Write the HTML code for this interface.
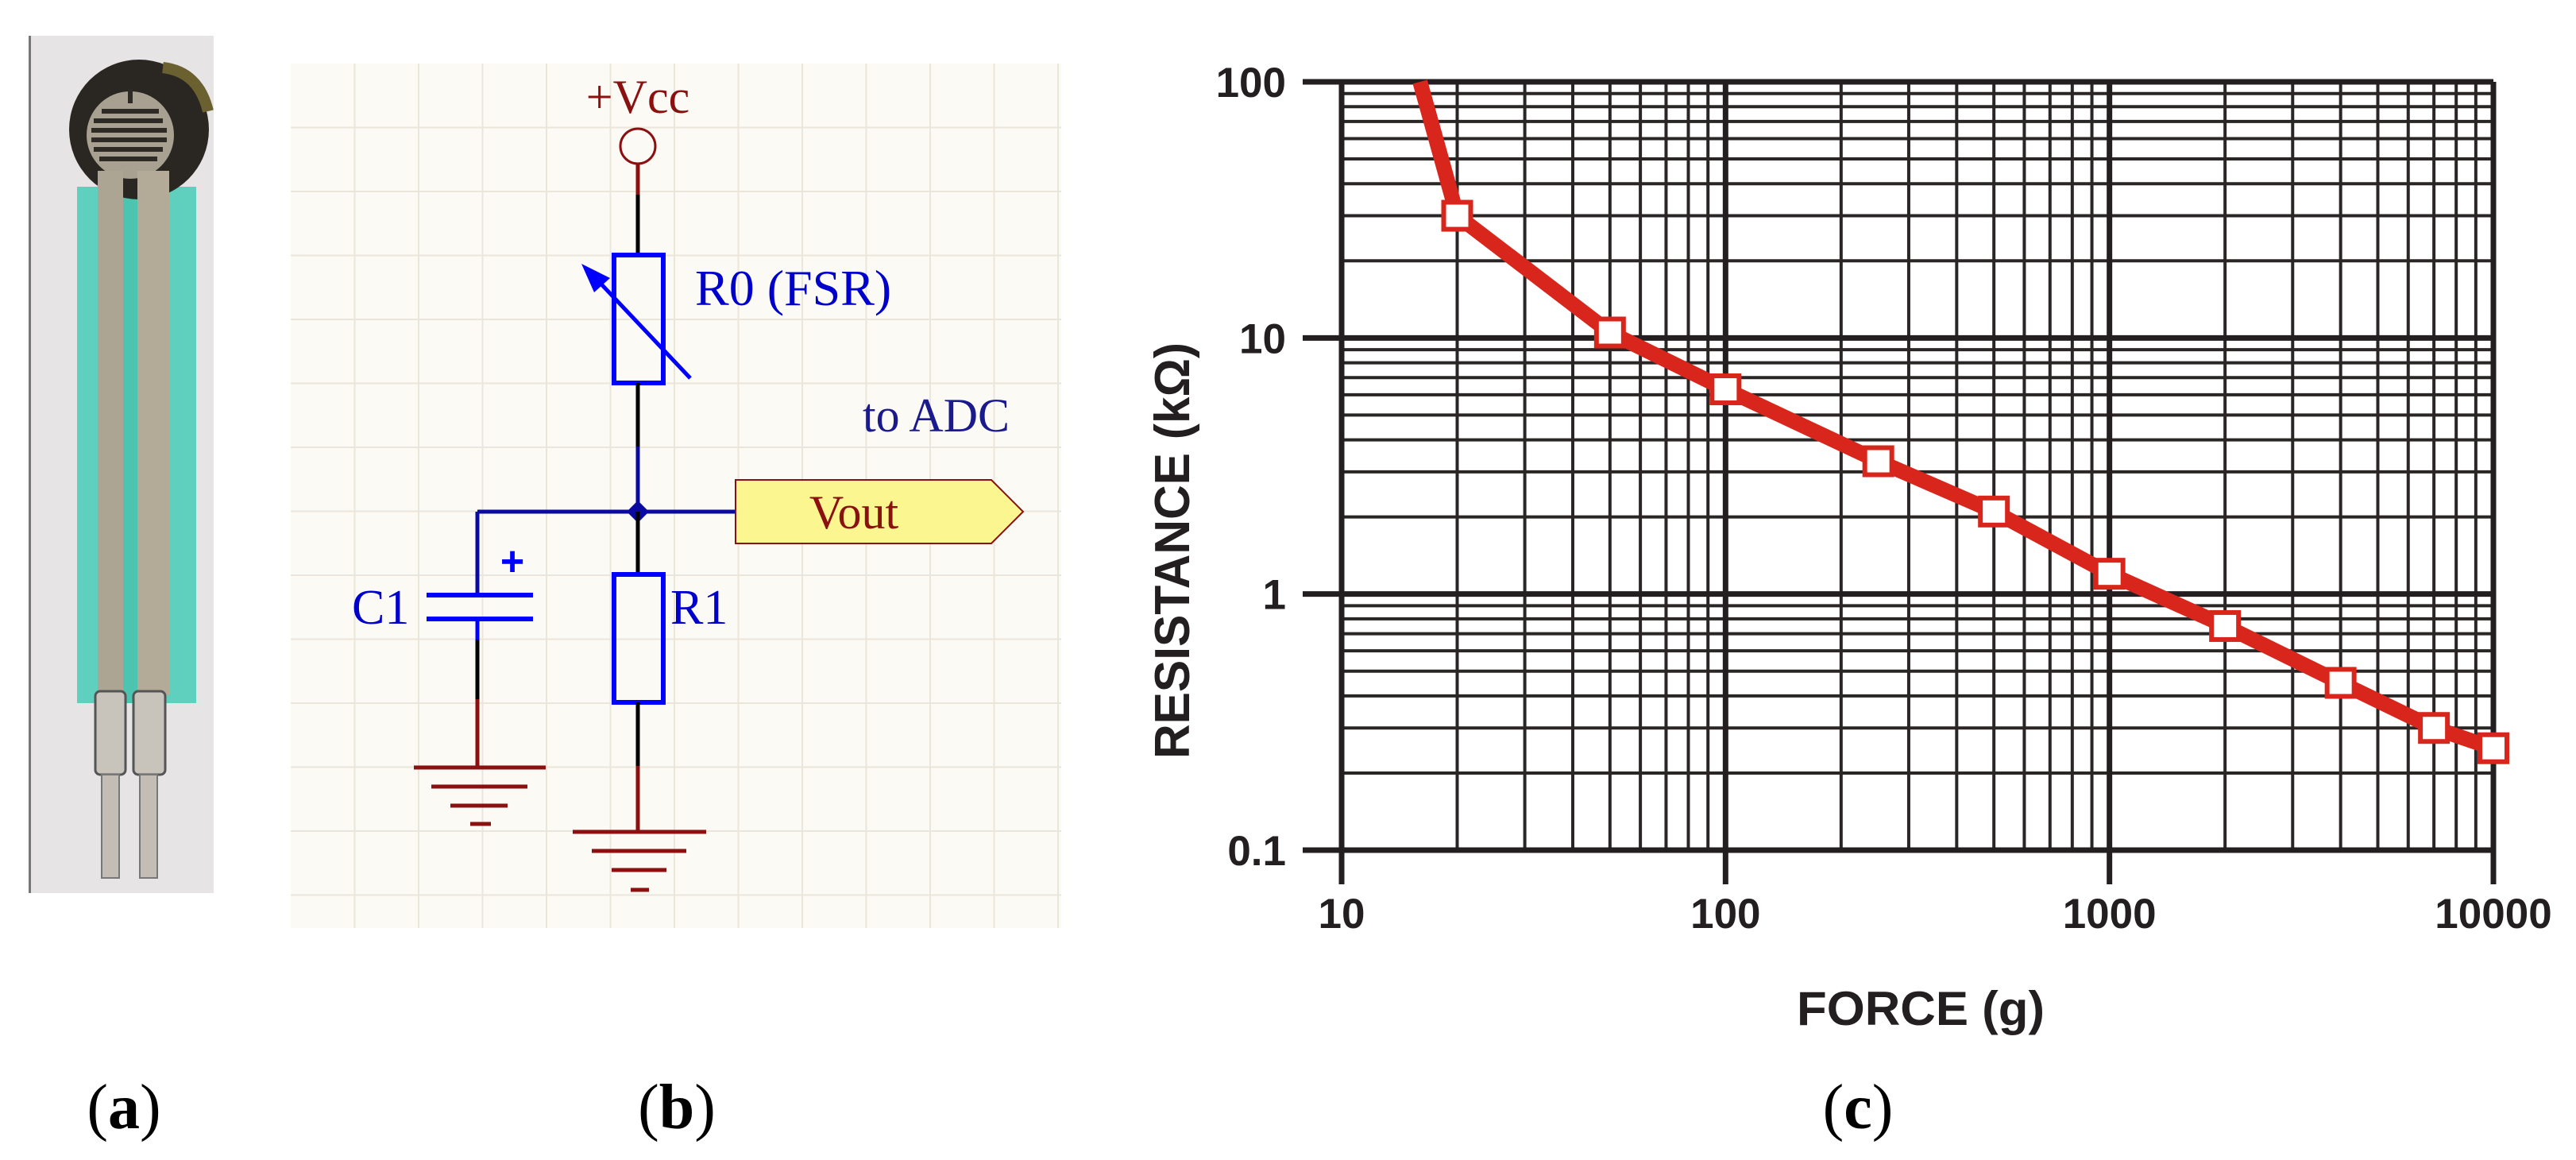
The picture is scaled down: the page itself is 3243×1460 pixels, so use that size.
<!DOCTYPE html>
<html><head><meta charset="utf-8">
<style>
html,body{margin:0;padding:0;background:#fff;}
body{width:3243px;height:1460px;overflow:hidden;position:relative;}
svg{position:absolute;left:0;top:0;}
</style></head>
<body>
<svg id="fig" width="3243" height="1460" viewBox="0 0 3243 1460" xmlns="http://www.w3.org/2000/svg">
  <!-- (a) photo of FSR -->
  <g>
    <rect x="36" y="45" width="233" height="1079" fill="#e6e4e4"/>
    <rect x="36" y="45" width="3" height="1079" fill="#777"/>
    <rect x="97" y="235" width="150" height="650" fill="#5fcfbe"/>
    <rect x="155" y="235" width="18" height="650" fill="#4cc4b0"/>
    <ellipse cx="175" cy="163" rx="88" ry="88" fill="#2a2722"/>
    <path d="M205 85 Q250 90 262 140" stroke="#6b6030" stroke-width="14" fill="none"/>
    <circle cx="164" cy="170" r="55" fill="#a8a090"/>
    <g stroke="#2e2b26" stroke-width="6">
      <line x1="128" y1="140" x2="200" y2="140"/>
      <line x1="118" y1="152" x2="205" y2="152"/>
      <line x1="115" y1="164" x2="210" y2="164"/>
      <line x1="115" y1="176" x2="210" y2="176"/>
      <line x1="118" y1="188" x2="205" y2="188"/>
      <line x1="125" y1="200" x2="198" y2="200"/>
      <line x1="164" y1="112" x2="164" y2="130"/>
    </g>
    <rect x="123" y="215" width="32" height="660" fill="#ada594"/>
    <rect x="173" y="215" width="40" height="660" fill="#b3ab98"/>
    <rect x="120" y="870" width="38" height="105" rx="6" fill="#c8c4bc" stroke="#555" stroke-width="3"/>
    <rect x="168" y="870" width="40" height="105" rx="6" fill="#c8c4bc" stroke="#555" stroke-width="3"/>
    <rect x="128" y="975" width="22" height="130" fill="#c2beb6" stroke="#777" stroke-width="2"/>
    <rect x="176" y="975" width="22" height="130" fill="#c2beb6" stroke="#777" stroke-width="2"/>
  </g>

  <!-- (b) circuit -->
  <g>
    <rect x="366" y="80" width="970" height="1088" fill="#fcfaf5"/>
    <g id="sgrid" stroke="#ebe6dc" stroke-width="2"></g>
    <text x="803" y="142" text-anchor="middle" font-family="Liberation Serif, serif" font-size="60" fill="#8b1010">+Vcc</text>
    <circle cx="803" cy="184" r="22" fill="none" stroke="#8b1010" stroke-width="3"/>
    <line x1="803" y1="206" x2="803" y2="245" stroke="#8b1010" stroke-width="5"/>
    <line x1="803" y1="245" x2="803" y2="321" stroke="#000" stroke-width="5"/>
    <rect x="773" y="321" width="62" height="161" fill="none" stroke="#0000ff" stroke-width="6"/>
    <line x1="869" y1="476" x2="745" y2="345" stroke="#0000ff" stroke-width="5"/>
    <polygon points="732,332 768,350 748,368" fill="#0000ff"/>
    <text x="875" y="384" font-family="Liberation Serif, serif" font-size="64" fill="#0000cc">R0 (FSR)</text>
    <line x1="803" y1="482" x2="803" y2="562" stroke="#000" stroke-width="5"/>
    <line x1="803" y1="562" x2="803" y2="644" stroke="#0a0aa0" stroke-width="5"/>
    <line x1="601" y1="644" x2="926" y2="644" stroke="#0a0aa0" stroke-width="5"/>
    <polygon points="803,630 817,644 803,658 789,644" fill="#0a0aa0"/>
    <text x="1086" y="543" font-family="Liberation Serif, serif" font-size="60" fill="#1a1a8c">to ADC</text>
    <polygon points="926,604 1248,604 1288,644 1248,684 926,684" fill="#fbf690" stroke="#8b1010" stroke-width="2"/>
    <text x="1075" y="665" text-anchor="middle" font-family="Liberation Serif, serif" font-size="60" fill="#8b1010">Vout</text>
    <!-- C1 -->
    <line x1="601" y1="644" x2="601" y2="749" stroke="#0a0aa0" stroke-width="5"/>
    <line x1="537" y1="749" x2="671" y2="749" stroke="#0000ff" stroke-width="6"/>
    <line x1="537" y1="779" x2="671" y2="779" stroke="#0000ff" stroke-width="6"/>
    <line x1="601" y1="779" x2="601" y2="805" stroke="#0000ff" stroke-width="5"/>
    <line x1="601" y1="805" x2="601" y2="880" stroke="#000" stroke-width="5"/>
    <line x1="601" y1="880" x2="601" y2="966" stroke="#8b1010" stroke-width="5"/>
    <text x="645" y="724" text-anchor="middle" font-family="Liberation Sans, sans-serif" font-weight="bold" font-size="52" fill="#0000ff">+</text>
    <text x="443" y="785" font-family="Liberation Serif, serif" font-size="62" fill="#0000cc">C1</text>
    <g stroke="#8b1010" stroke-width="5">
      <line x1="521" y1="966" x2="687" y2="966"/><line x1="543" y1="990" x2="664" y2="990"/>
      <line x1="567" y1="1014" x2="639" y2="1014"/><line x1="592" y1="1037" x2="618" y2="1037"/>
    </g>
    <!-- R1 -->
    <line x1="803" y1="644" x2="803" y2="723" stroke="#000" stroke-width="5"/>
    <rect x="773" y="723" width="62" height="161" fill="none" stroke="#0000ff" stroke-width="6"/>
    <text x="844" y="785" font-family="Liberation Serif, serif" font-size="62" fill="#0000cc">R1</text>
    <line x1="803" y1="884" x2="803" y2="964" stroke="#000" stroke-width="5"/>
    <line x1="803" y1="964" x2="803" y2="1047" stroke="#8b1010" stroke-width="5"/>
    <g stroke="#8b1010" stroke-width="5">
      <line x1="721" y1="1047" x2="889" y2="1047"/><line x1="745" y1="1071" x2="864" y2="1071"/>
      <line x1="770" y1="1095" x2="839" y2="1095"/><line x1="794" y1="1120" x2="817" y2="1120"/>
    </g>
  </g>

  <!-- (c) chart -->
  <g id="chart">
    <g id="grid"></g>
    <g id="ticks"></g>
    <g id="series"></g>
    <text transform="translate(1497,693) rotate(-90)" text-anchor="middle" font-family="Liberation Sans, sans-serif" font-weight="bold" font-size="62" textLength="524" lengthAdjust="spacingAndGlyphs" fill="#231f20">RESISTANCE (kΩ)</text>
    <text x="2418" y="1290" text-anchor="middle" font-family="Liberation Sans, sans-serif" font-weight="bold" font-size="60" textLength="312" lengthAdjust="spacingAndGlyphs" fill="#231f20">FORCE (g)</text>
  </g>

  <g font-family="Liberation Serif, serif" font-size="80" fill="#000" text-anchor="middle">
    <text x="156" y="1420">(<tspan font-weight="bold">a</tspan>)</text>
    <text x="852" y="1420">(<tspan font-weight="bold">b</tspan>)</text>
    <text x="2339" y="1420">(<tspan font-weight="bold">c</tspan>)</text>
  </g>
</svg>
<script>
const forceValues = [16, 20, 50, 100, 250, 500, 1000, 2000, 4000, 7000, 10000];
const resistanceValues = [100, 30, 10.5, 6.3, 3.3, 2.1, 1.2, 0.75, 0.45, 0.3, 0.25];
const markerFlags = [0, 1, 1, 1, 1, 1, 1, 1, 1, 1, 1];
const xTickLabels = ["10", "100", "1000", "10000"];
const yTickLabels = ["0.1", "1", "10", "100"];

const NS = "http://www.w3.org/2000/svg";
const X0 = 1689, X1 = 3139, Y0 = 103, Y1 = 1070;
const xMin = 10, xMax = 10000, yMin = 0.1, yMax = 100;
function xs(v){ return X0 + (X1 - X0) * (Math.log10(v) - Math.log10(xMin)) / (Math.log10(xMax) - Math.log10(xMin)); }
function ys(v){ return Y1 - (Y1 - Y0) * (Math.log10(v) - Math.log10(yMin)) / (Math.log10(yMax) - Math.log10(yMin)); }
function mk(tag, attrs, parent){ const e = document.createElementNS(NS, tag); for (const k in attrs) e.setAttribute(k, attrs[k]); parent.appendChild(e); return e; }

// schematic grid
const sg = document.getElementById('sgrid');
for (let x = 366 + 80.5; x < 1336; x += 80.5) mk('line', {x1:x, y1:80, x2:x, y2:1168}, sg);
for (let y = 80 + 80.5; y < 1168; y += 80.5) mk('line', {x1:366, y1:y, x2:1336, y2:y}, sg);

const grid = document.getElementById('grid');
const ticks = document.getElementById('ticks');
// vertical grid lines
for (let d = 10; d < xMax; d *= 10) {
  for (let m = 2; m <= 9; m++) {
    const x = xs(d * m);
    const l = mk('line', {x1:x, y1:Y0, x2:x, y2:Y1, stroke:'#2a2626', 'stroke-width':4}, grid);
    
    
  }
}
for (let d = 0.1; d < yMax * 0.99; d *= 10) {
  for (let m = 2; m <= 9; m++) {
    const y = ys(d * m);
    const l = mk('line', {x1:X0, y1:y, x2:X1, y2:y, stroke:'#2a2626', 'stroke-width':4}, grid);
    
    
  }
}
// decade lines and labels
xTickLabels.forEach(function(t){
  const x = xs(parseFloat(t));
  const l = mk('line', {x1:x, y1:Y0, x2:x, y2:1113, stroke:'#231f20', 'stroke-width':7}, ticks);
  
  
  const tx = mk('text', {x:x, y:1168, 'text-anchor':'middle', 'font-family':'Liberation Sans, sans-serif', 'font-weight':'bold', 'font-size':53, fill:'#231f20'}, ticks);
  tx.textContent = t;
  
  
});
yTickLabels.forEach(function(t){
  const y = ys(parseFloat(t));
  const l = mk('line', {x1:1640, y1:y, x2:X1, y2:y, stroke:'#231f20', 'stroke-width':7}, ticks);
  
  
  const tx = mk('text', {x:1619, y:y + 19, 'text-anchor':'end', 'font-family':'Liberation Sans, sans-serif', 'font-weight':'bold', 'font-size':53, fill:'#231f20'}, ticks);
  tx.textContent = t;
  
  
});

// series
const ser = document.getElementById('series');
const pts = forceValues.map(function(f, i){ return xs(f).toFixed(1) + ',' + ys(resistanceValues[i]).toFixed(1); }).join(' ');
const pl = mk('polyline', {points:pts, fill:'none', stroke:'#d9261c', 'stroke-width':19, 'stroke-linejoin':'round'}, ser);


forceValues.forEach(function(f, i){
  if (!markerFlags[i]) return;
  const s = 34;
  const r = mk('rect', {x:xs(f) - s/2, y:ys(resistanceValues[i]) - s/2, width:s, height:s, fill:'#fff', stroke:'#d9261c', 'stroke-width':6}, ser);
  
  
});
</script>
</body></html>
